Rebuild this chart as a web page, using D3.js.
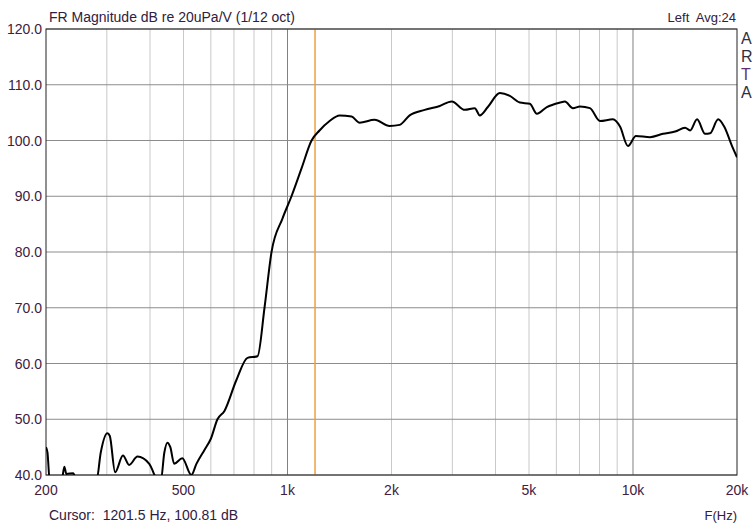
<!DOCTYPE html>
<html><head><meta charset="utf-8">
<script src="https://cdn.jsdelivr.net/npm/d3@7"></script>
<style>body{margin:0;background:#fff}text{font-family:"Liberation Sans",Arial,sans-serif;white-space:pre}</style>
</head><body><svg id="c" width="756" height="529"></svg>
<script>
// measured curve (Hz, dB); values below 40 are clipped by the plot
const freqs = [200,202,205,222,226,229,240,245,280,288,301,306,317,334,348,368,398,412,418,430,440,449,458,470,496,527,545,575,600,627,657,711,766,819,858,899,967,1027,1098,1174,1238,1324,1415,1533,1617,1787,1975,2112,2257,2495,2759,2988,3260,3484,3602,3800,4118,4401,4705,5028,5270,5633,6143,6353,6699,7021,7506,8023,8750,9170,9672,10200,11200,12220,13240,14150,14630,15330,16170,16720,17640,18360,19350,20000];
const mags  = [45,44,39,39,41.5,40.2,40.3,39,39,44,47.5,47,40.5,43.5,41.8,43.3,42,40,39,39,44,45.8,45,42,43,40,42,44.5,46.5,50,51.5,57,61,61.3,70,80,86,90,95,100,101.8,103.5,104.5,104.3,103.2,103.7,102.6,102.8,104.5,105.5,106.2,107,105.5,105.8,104.5,106,108.5,108,106.8,106.6,104.8,106,106.8,107,105.8,106.1,105.8,103.5,103.8,102.5,99,100.8,100.6,101.2,101.6,102.3,101.8,103.8,101.2,101.3,103.8,102.5,99,97];
const yTicks = [40,50,60,70,80,90,100,110,120];
const xLabels = [[200,'200'],[500,'500'],[1000,'1k'],[2000,'2k'],[5000,'5k'],[10000,'10k'],[20000,'20k']];
const minorF = [300,400,500,600,700,800,900,2000,3000,4000,5000,6000,7000,8000,9000];
const majorF = [1000,10000];
const cursorF = 1201.5;

const svg = d3.select('#c');
const L=46, R=737, T=29, B=475;
const x = d3.scaleLog().domain([200,20000]).range([L,R]);
const y = d3.scaleLinear().domain([40,120]).range([B,T]);

svg.append('defs').append('clipPath').attr('id','clip')
  .append('rect').attr('x',L).attr('y',T).attr('width',R-L).attr('height',B-T);

const g = svg.append('g');
g.selectAll('.mn').data(minorF).join('line')
  .attr('x1',d=>x(d)).attr('x2',d=>x(d)).attr('y1',T).attr('y2',B)
  .attr('stroke','#c8c8c8').attr('stroke-width',1);
g.selectAll('.mj').data(majorF).join('line')
  .attr('x1',d=>x(d)).attr('x2',d=>x(d)).attr('y1',T).attr('y2',B)
  .attr('stroke','#808080').attr('stroke-width',1);
g.selectAll('.yg').data(yTicks).join('line')
  .attr('x1',L).attr('x2',R).attr('y1',d=>y(d)).attr('y2',d=>y(d))
  .attr('stroke','#8c8c8c').attr('stroke-width',1);

// cursor
g.append('line').attr('x1',x(cursorF)).attr('x2',x(cursorF)).attr('y1',T).attr('y2',B)
  .attr('stroke','#f0a040').attr('stroke-width',1.5);

// frame
svg.append('rect').attr('x',L).attr('y',T).attr('width',R-L).attr('height',B-T)
  .attr('fill','none').attr('stroke','#222').attr('stroke-width',1);

const line = d3.line().x((d,i)=>x(freqs[i])).y(d=>y(d)).curve(d3.curveMonotoneX);
svg.append('path').datum(mags).attr('d',line).attr('clip-path','url(#clip)')
  .attr('fill','none').attr('stroke','#000').attr('stroke-width',2);

svg.selectAll('.yl').data(yTicks).join('text')
  .attr('x',L-4).attr('y',d=>y(d)+5).attr('text-anchor','end')
  .attr('font-size',14).attr('fill','#402040').text(d=>d.toFixed(1));
svg.selectAll('.xl').data(xLabels).join('text')
  .attr('x',d=>x(d[0])).attr('y',B+20).attr('text-anchor','middle')
  .attr('font-size',14).attr('fill','#402040').text(d=>d[1]);

svg.append('text').attr('x',49).attr('y',22).attr('font-size',14).attr('fill','#302040')
  .text('FR Magnitude dB re 20uPa/V (1/12 oct)');
svg.append('text').attr('x',736).attr('y',22).attr('text-anchor','end').attr('font-size',13).attr('fill','#302040')
  .text('Left  Avg:24');
svg.append('text').attr('x',49).attr('y',520).attr('font-size',14).attr('fill','#302040')
  .text('Cursor:  1201.5 Hz, 100.81 dB');
svg.append('text').attr('x',737).attr('y',520).attr('text-anchor','end').attr('font-size',13).attr('fill','#302040')
  .text('F(Hz)');
['A','R','T','A'].forEach((c,i)=>svg.append('text').attr('x',741).attr('y',44+i*18)
  .attr('font-size',16).attr('fill',i==2?'#603070':'#303040').text(c));
</script></body></html>
